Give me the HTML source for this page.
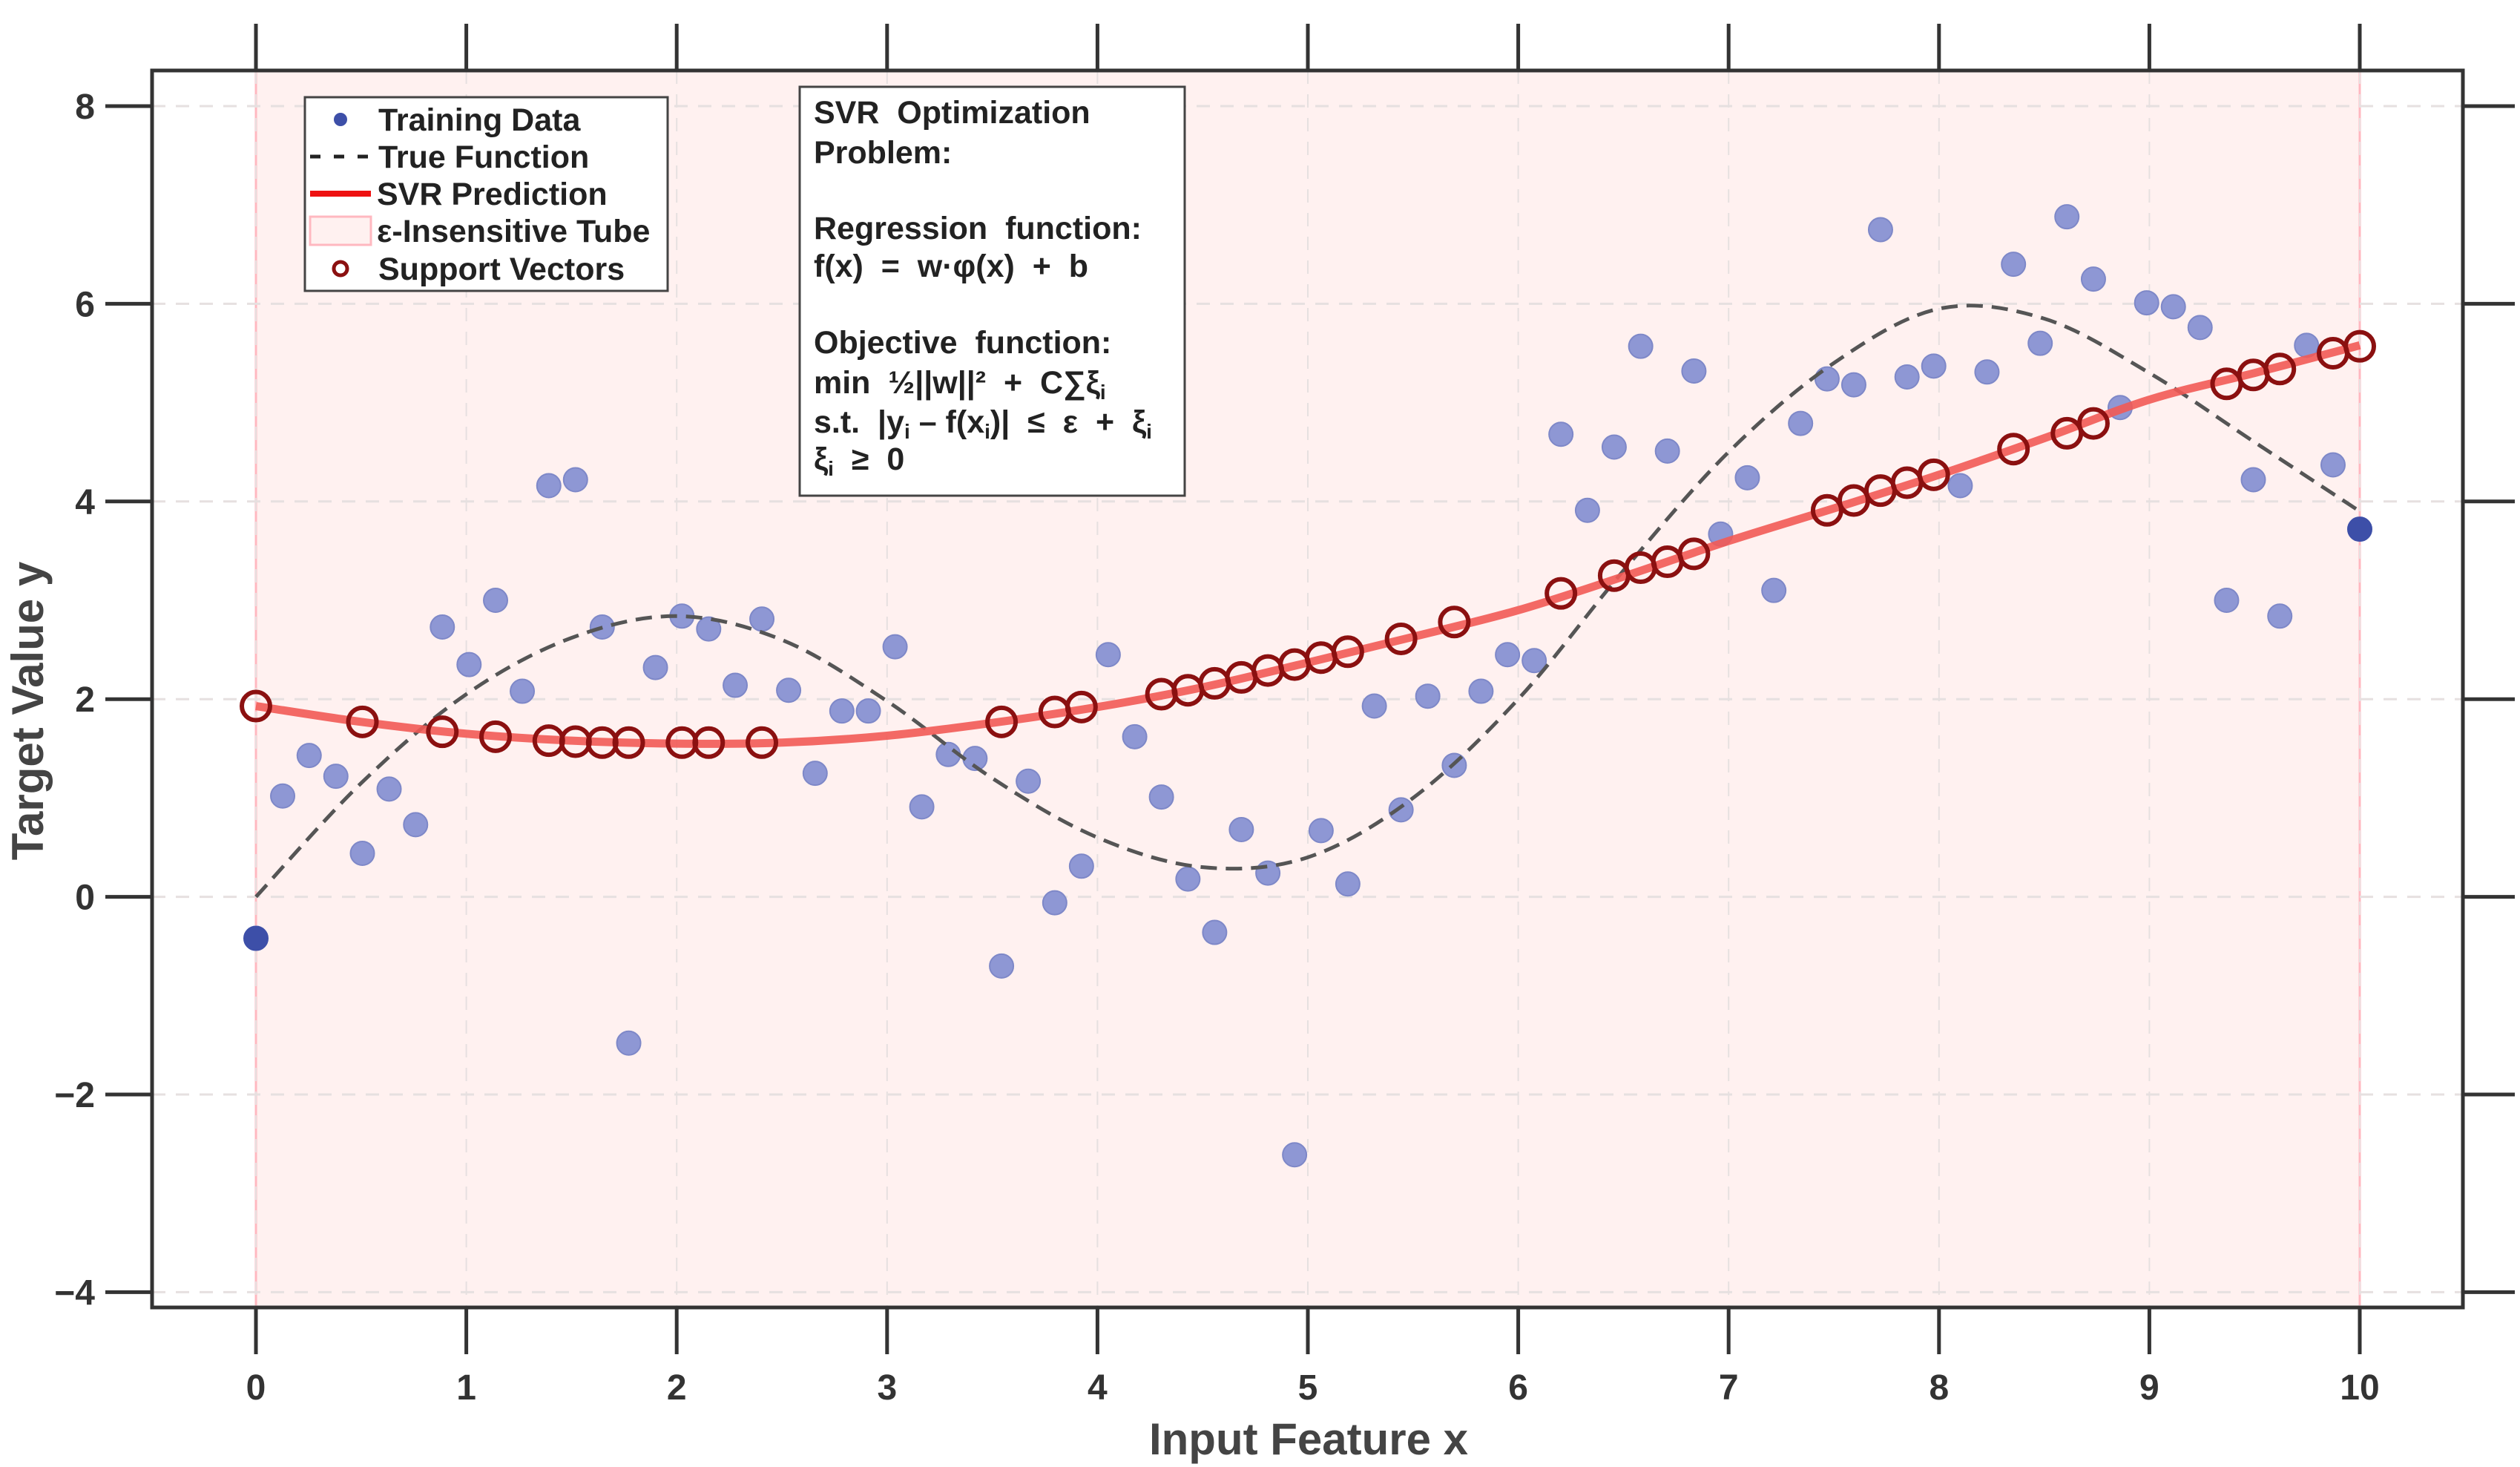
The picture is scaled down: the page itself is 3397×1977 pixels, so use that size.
<!DOCTYPE html>
<html><head><meta charset="utf-8">
<style>
html,body{margin:0;padding:0;background:#fff;}
svg{display:block;font-family:"Liberation Sans",sans-serif;}
</style></head>
<body>
<svg id="chart" width="3397" height="1977" viewBox="0 0 3397 1977" xmlns="http://www.w3.org/2000/svg">
<g id="plot"></g>
</svg>
<script>
const trainX = [0,0.127,0.253,0.38,0.506,0.633,0.759,0.886,1.013,1.139,1.266,1.392,1.519,1.646,1.772,1.899,2.025,2.152,2.278,2.405,2.532,2.658,2.785,2.911,3.038,3.165,3.291,3.418,3.544,3.671,3.797,3.924,4.051,4.177,4.304,4.43,4.557,4.684,4.81,4.937,5.063,5.19,5.316,5.443,5.57,5.696,5.823,5.949,6.076,6.203,6.329,6.456,6.582,6.709,6.835,6.962,7.089,7.215,7.342,7.468,7.595,7.722,7.848,7.975,8.101,8.228,8.354,8.481,8.608,8.734,8.861,8.987,9.114,9.241,9.367,9.494,9.62,9.747,9.873,10];
const trainY = [-0.42,1.02,1.43,1.22,0.44,1.09,0.73,2.73,2.35,3.0,2.08,4.16,4.22,2.73,-1.48,2.32,2.84,2.71,2.14,2.81,2.09,1.25,1.88,1.88,2.53,0.91,1.44,1.40,-0.70,1.17,-0.06,0.31,2.45,1.62,1.01,0.18,-0.36,0.68,0.24,-2.61,0.67,0.13,1.93,0.88,2.03,1.33,2.08,2.45,2.39,4.68,3.91,4.55,5.57,4.51,5.32,3.67,4.24,3.10,4.79,5.24,5.18,6.75,5.26,5.37,4.16,5.31,6.40,5.60,6.88,6.25,4.95,6.01,5.97,5.76,3.00,4.22,2.84,5.58,4.37,3.72];
const trueX = [0,0.5,1,1.5,2,2.5,3,3.5,4,4.5,5,5.5,6,6.5,7,7.5,8,8.5,9,9.5,10];
const trueY = [0,1.15,2.05,2.62,2.84,2.6,1.98,1.2,0.6,0.3,0.4,1.0,2.0,3.3,4.5,5.4,5.95,5.85,5.3,4.6,3.9];
const predX = [0,0.5,1,1.5,2,2.5,3,3.5,4,4.5,5,5.5,6,6.5,7,7.5,8,8.5,9,9.5,10];
const predY = [1.93,1.77,1.65,1.58,1.55,1.56,1.63,1.76,1.92,2.12,2.37,2.63,2.9,3.24,3.6,3.93,4.27,4.64,5.03,5.3,5.58];
const svX = [0,0.506,0.886,1.139,1.392,1.519,1.646,1.772,2.025,2.152,2.405,3.544,3.797,3.924,4.304,4.43,4.557,4.684,4.81,4.937,5.063,5.19,5.443,5.696,6.203,6.456,6.582,6.709,6.835,7.468,7.595,7.722,7.848,7.975,8.354,8.608,8.734,9.367,9.494,9.62,9.873,10];
const svY = [1.93,1.77,1.67,1.62,1.58,1.57,1.56,1.56,1.56,1.56,1.56,1.77,1.87,1.92,2.05,2.09,2.16,2.22,2.29,2.35,2.42,2.48,2.61,2.78,3.07,3.25,3.33,3.39,3.47,3.91,4.01,4.11,4.19,4.27,4.53,4.69,4.79,5.19,5.28,5.34,5.5,5.57];
const xTicks = [0,1,2,3,4,5,6,7,8,9,10];
const yTicks = [-4,-2,0,2,4,6,8];

const X0=345, XU=283.6, Y0=143, YT=8, YU=133.2;
const L=205, T=95, R=3320, B=1762;
function sx(v){return X0+v*XU;}
function sy(v){return Y0+(YT-v)*YU;}
const NS="http://www.w3.org/2000/svg";
const g=document.getElementById('plot');
function mk(tag,attrs,parent){const e=document.createElementNS(NS,tag);for(const k in attrs)e.setAttribute(k,attrs[k]);(parent||g).appendChild(e);return e;}
function smooth(xs,ys){
  const p=xs.map((x,i)=>[sx(x),sy(ys[i])]);
  let d='M'+p[0][0]+','+p[0][1];
  for(let i=0;i<p.length-1;i++){
    const p0=p[Math.max(0,i-1)],p1=p[i],p2=p[i+1],p3=p[Math.min(p.length-1,i+2)];
    const c1=[p1[0]+(p2[0]-p0[0])/6,p1[1]+(p2[1]-p0[1])/6];
    const c2=[p2[0]-(p3[0]-p1[0])/6,p2[1]-(p3[1]-p1[1])/6];
    d+=' C'+c1[0]+','+c1[1]+' '+c2[0]+','+c2[1]+' '+p2[0]+','+p2[1];
  }
  return d;
}

let e=mk('rect',{x:sx(0),y:T,width:sx(10)-sx(0),height:B-T,fill:'#fff1f0'});


[0,10].forEach(v=>{
  const l=mk('line',{x1:sx(v),x2:sx(v),y1:T,y2:B,stroke:'#ffb8c0','stroke-width':3});
  
  
});
xTicks.forEach(v=>{
  const l=mk('line',{x1:sx(v),x2:sx(v),y1:T,y2:B,stroke:'#e6e0e0','stroke-width':2,'stroke-dasharray':'18 14'});
  
  
});
yTicks.forEach(v=>{
  const l=mk('line',{x1:L,x2:R,y1:sy(v),y2:sy(v),stroke:'#e6e0e0','stroke-width':3,'stroke-dasharray':'18 14'});
  
  
});
trainX.forEach((x,i)=>{
  const edge=(i===0||i===trainX.length-1);
  const c=mk('circle',{cx:sx(x),cy:sy(trainY[i]),r:16,fill:edge?'#3d4fa8':'#8e97d4',stroke:edge?'#3d4fa8':'#7e88c8','stroke-width':2});
  
  
});
e=mk('path',{d:smooth(trueX,trueY),fill:'none',stroke:'#555','stroke-width':5,'stroke-dasharray':'22 12'});


e=mk('path',{d:smooth(predX,predY),fill:'none',stroke:'#f25a55','stroke-width':11,'stroke-opacity':0.9});


svX.forEach((x,i)=>{
  const c=mk('circle',{cx:sx(x),cy:sy(svY[i]),r:19,fill:'none',stroke:'#8b1010','stroke-width':6});
  
  
});
e=mk('rect',{x:L,y:T,width:R-L,height:B-T,fill:'none',stroke:'#333','stroke-width':5});


xTicks.forEach(v=>{
  let t=mk('line',{x1:sx(v),x2:sx(v),y1:B,y2:1825,stroke:'#333','stroke-width':5});
  
  
  t=mk('line',{x1:sx(v),x2:sx(v),y1:32,y2:T,stroke:'#333','stroke-width':5});
  
  
  const tx=mk('text',{x:sx(v),y:1886,'text-anchor':'middle','font-size':48,'font-weight':'bold',fill:'#333'});
  tx.textContent=String(v);
  
  
});
yTicks.forEach(v=>{
  let t=mk('line',{x1:142,x2:L,y1:sy(v),y2:sy(v),stroke:'#333','stroke-width':5});
  
  
  t=mk('line',{x1:R,x2:3390,y1:sy(v),y2:sy(v),stroke:'#333','stroke-width':5});
  
  
  const tx=mk('text',{x:128,y:sy(v)+17,'text-anchor':'end','font-size':48,'font-weight':'bold',fill:'#333'});
  tx.textContent=v<0?'\u2212'+Math.abs(v):String(v);
  
  
});
</script>
<svg style="position:absolute;left:0;top:0" width="3397" height="1977" xmlns="http://www.w3.org/2000/svg">
<text x="1764" y="1960" text-anchor="middle" font-family="Liberation Sans" font-size="60" font-weight="bold" fill="#444">Input Feature x</text>
<text transform="translate(58,958) rotate(-90)" text-anchor="middle" font-family="Liberation Sans" font-size="60" font-weight="bold" fill="#444">Target Value y</text>
<g font-family="Liberation Sans" font-size="43" font-weight="bold" fill="#222">
<rect x="411" y="131" width="489" height="261" fill="#fff" stroke="#444" stroke-width="3"/>
<circle cx="459" cy="161" r="9" fill="#3d4fa8"/>
<text x="510" y="176">Training Data</text>
<line x1="418" y1="211" x2="498" y2="211" stroke="#222" stroke-width="5" stroke-dasharray="14 18"/>
<text x="510" y="226">True Function</text>
<line x1="418" y1="261" x2="500" y2="261" stroke="#ee1111" stroke-width="8"/>
<text x="508" y="276">SVR Prediction</text>
<rect x="418" y="292" width="82" height="38" fill="#fff1f0" stroke="#ffb8c0" stroke-width="3"/>
<text x="508" y="326">ε-Insensitive Tube</text>
<circle cx="459" cy="362" r="9" fill="none" stroke="#8b1010" stroke-width="5"/>
<text x="510" y="377">Support Vectors</text>
</g>
<g font-family="Liberation Sans" font-size="43" font-weight="bold" fill="#222">
<rect x="1078" y="117" width="519" height="551" fill="#fff" stroke="#444" stroke-width="3"/>
<text x="1097" y="166" xml:space="preserve">SVR  Optimization</text>
<text x="1097" y="220">Problem:</text>
<text x="1097" y="322" xml:space="preserve">Regression  function:</text>
<text x="1097" y="373" xml:space="preserve">f(x)  =  w·φ(x)  +  b</text>
<text x="1097" y="476" xml:space="preserve">Objective  function:</text>
<text x="1097" y="530" xml:space="preserve">min  ½||w||²  +  C∑ξ<tspan font-size="28" dy="8">i</tspan></text>
<text x="1097" y="583" xml:space="preserve">s.t.  |y<tspan font-size="28" dy="8">i</tspan><tspan dy="-8"> – f(x</tspan><tspan font-size="28" dy="8">i</tspan><tspan dy="-8">)|  ≤  ε  +  ξ</tspan><tspan font-size="28" dy="8">i</tspan></text>
<text x="1097" y="633" xml:space="preserve">ξ<tspan font-size="28" dy="8">i</tspan><tspan dy="-8">  ≥  0</tspan></text>
</g>
</svg>
</body></html>
